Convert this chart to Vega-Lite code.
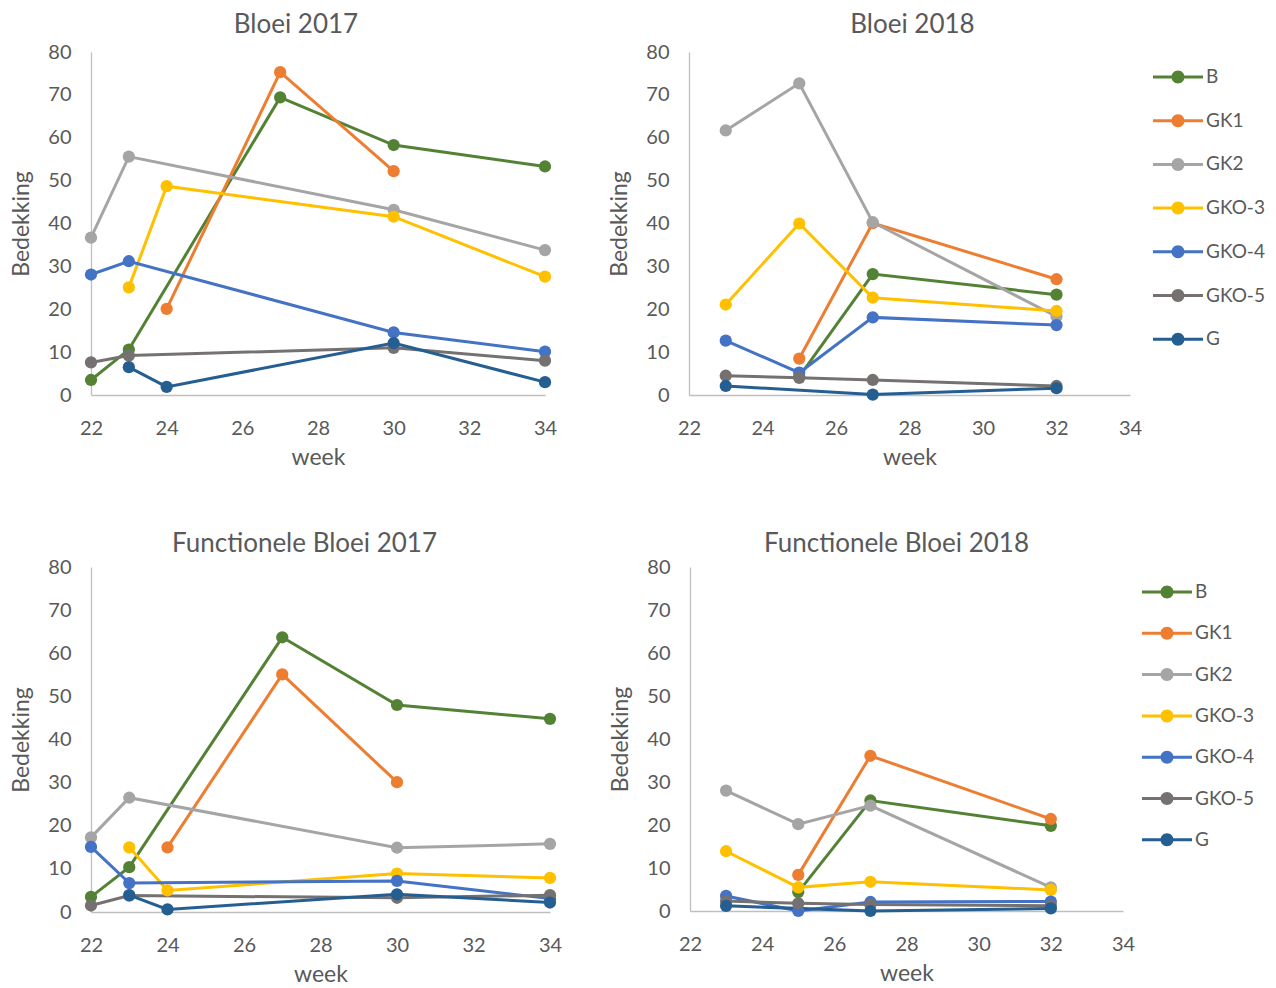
{
  "$schema": "https://vega.github.io/schema/vega-lite/v6.json",
  "padding": {"left": 10, "top": 12, "right": 0, "bottom": 0},
  "background": "white",
  "datasets": {
    "d": [
      {"panel": "Bloei 2017", "serie": "B", "week": 22, "value": 3.5},
      {"panel": "Bloei 2017", "serie": "B", "week": 23, "value": 10.6},
      {"panel": "Bloei 2017", "serie": "B", "week": 27, "value": 69.4},
      {"panel": "Bloei 2017", "serie": "B", "week": 30, "value": 58.3},
      {"panel": "Bloei 2017", "serie": "B", "week": 34, "value": 53.3},
      {"panel": "Bloei 2017", "serie": "GK1", "week": 24, "value": 20.1},
      {"panel": "Bloei 2017", "serie": "GK1", "week": 27, "value": 75.3},
      {"panel": "Bloei 2017", "serie": "GK1", "week": 30, "value": 52.2},
      {"panel": "Bloei 2017", "serie": "GK2", "week": 22, "value": 36.7},
      {"panel": "Bloei 2017", "serie": "GK2", "week": 23, "value": 55.6},
      {"panel": "Bloei 2017", "serie": "GK2", "week": 30, "value": 43.2},
      {"panel": "Bloei 2017", "serie": "GK2", "week": 34, "value": 33.8},
      {"panel": "Bloei 2017", "serie": "GKO-3", "week": 23, "value": 25.1},
      {"panel": "Bloei 2017", "serie": "GKO-3", "week": 24, "value": 48.7},
      {"panel": "Bloei 2017", "serie": "GKO-3", "week": 30, "value": 41.6},
      {"panel": "Bloei 2017", "serie": "GKO-3", "week": 34, "value": 27.6},
      {"panel": "Bloei 2017", "serie": "GKO-4", "week": 22, "value": 28.1},
      {"panel": "Bloei 2017", "serie": "GKO-4", "week": 23, "value": 31.2},
      {"panel": "Bloei 2017", "serie": "GKO-4", "week": 30, "value": 14.6},
      {"panel": "Bloei 2017", "serie": "GKO-4", "week": 34, "value": 10.1},
      {"panel": "Bloei 2017", "serie": "GKO-5", "week": 22, "value": 7.6},
      {"panel": "Bloei 2017", "serie": "GKO-5", "week": 23, "value": 9.2},
      {"panel": "Bloei 2017", "serie": "GKO-5", "week": 30, "value": 11.0},
      {"panel": "Bloei 2017", "serie": "GKO-5", "week": 34, "value": 8.0},
      {"panel": "Bloei 2017", "serie": "G", "week": 23, "value": 6.5},
      {"panel": "Bloei 2017", "serie": "G", "week": 24, "value": 1.9},
      {"panel": "Bloei 2017", "serie": "G", "week": 30, "value": 12.1},
      {"panel": "Bloei 2017", "serie": "G", "week": 34, "value": 3.0},

      {"panel": "Bloei 2018", "serie": "B", "week": 25, "value": 4.3},
      {"panel": "Bloei 2018", "serie": "B", "week": 27, "value": 28.2},
      {"panel": "Bloei 2018", "serie": "B", "week": 32, "value": 23.4},
      {"panel": "Bloei 2018", "serie": "GK1", "week": 25, "value": 8.5},
      {"panel": "Bloei 2018", "serie": "GK1", "week": 27, "value": 40.1},
      {"panel": "Bloei 2018", "serie": "GK1", "week": 32, "value": 27.0},
      {"panel": "Bloei 2018", "serie": "GK2", "week": 23, "value": 61.7},
      {"panel": "Bloei 2018", "serie": "GK2", "week": 25, "value": 72.7},
      {"panel": "Bloei 2018", "serie": "GK2", "week": 27, "value": 40.3},
      {"panel": "Bloei 2018", "serie": "GK2", "week": 32, "value": 18.3},
      {"panel": "Bloei 2018", "serie": "GKO-3", "week": 23, "value": 21.1},
      {"panel": "Bloei 2018", "serie": "GKO-3", "week": 25, "value": 40.0},
      {"panel": "Bloei 2018", "serie": "GKO-3", "week": 27, "value": 22.7},
      {"panel": "Bloei 2018", "serie": "GKO-3", "week": 32, "value": 19.6},
      {"panel": "Bloei 2018", "serie": "GKO-4", "week": 23, "value": 12.7},
      {"panel": "Bloei 2018", "serie": "GKO-4", "week": 25, "value": 5.2},
      {"panel": "Bloei 2018", "serie": "GKO-4", "week": 27, "value": 18.1},
      {"panel": "Bloei 2018", "serie": "GKO-4", "week": 32, "value": 16.3},
      {"panel": "Bloei 2018", "serie": "GKO-5", "week": 23, "value": 4.5},
      {"panel": "Bloei 2018", "serie": "GKO-5", "week": 25, "value": 4.0},
      {"panel": "Bloei 2018", "serie": "GKO-5", "week": 27, "value": 3.5},
      {"panel": "Bloei 2018", "serie": "GKO-5", "week": 32, "value": 2.1},
      {"panel": "Bloei 2018", "serie": "G", "week": 23, "value": 2.1},
      {"panel": "Bloei 2018", "serie": "G", "week": 27, "value": 0.1},
      {"panel": "Bloei 2018", "serie": "G", "week": 32, "value": 1.6},

      {"panel": "Functionele Bloei 2017", "serie": "B", "week": 22, "value": 3.5},
      {"panel": "Functionele Bloei 2017", "serie": "B", "week": 23, "value": 10.4},
      {"panel": "Functionele Bloei 2017", "serie": "B", "week": 27, "value": 63.7},
      {"panel": "Functionele Bloei 2017", "serie": "B", "week": 30, "value": 48.0},
      {"panel": "Functionele Bloei 2017", "serie": "B", "week": 34, "value": 44.8},
      {"panel": "Functionele Bloei 2017", "serie": "GK1", "week": 24, "value": 15.0},
      {"panel": "Functionele Bloei 2017", "serie": "GK1", "week": 27, "value": 55.1},
      {"panel": "Functionele Bloei 2017", "serie": "GK1", "week": 30, "value": 30.1},
      {"panel": "Functionele Bloei 2017", "serie": "GK2", "week": 22, "value": 17.3},
      {"panel": "Functionele Bloei 2017", "serie": "GK2", "week": 23, "value": 26.5},
      {"panel": "Functionele Bloei 2017", "serie": "GK2", "week": 30, "value": 14.9},
      {"panel": "Functionele Bloei 2017", "serie": "GK2", "week": 34, "value": 15.8},
      {"panel": "Functionele Bloei 2017", "serie": "GKO-3", "week": 23, "value": 15.0},
      {"panel": "Functionele Bloei 2017", "serie": "GKO-3", "week": 24, "value": 5.0},
      {"panel": "Functionele Bloei 2017", "serie": "GKO-3", "week": 30, "value": 8.9},
      {"panel": "Functionele Bloei 2017", "serie": "GKO-3", "week": 34, "value": 7.9},
      {"panel": "Functionele Bloei 2017", "serie": "GKO-4", "week": 22, "value": 15.1},
      {"panel": "Functionele Bloei 2017", "serie": "GKO-4", "week": 23, "value": 6.7},
      {"panel": "Functionele Bloei 2017", "serie": "GKO-4", "week": 30, "value": 7.2},
      {"panel": "Functionele Bloei 2017", "serie": "GKO-4", "week": 34, "value": 3.1},
      {"panel": "Functionele Bloei 2017", "serie": "GKO-5", "week": 22, "value": 1.5},
      {"panel": "Functionele Bloei 2017", "serie": "GKO-5", "week": 23, "value": 3.8},
      {"panel": "Functionele Bloei 2017", "serie": "GKO-5", "week": 30, "value": 3.3},
      {"panel": "Functionele Bloei 2017", "serie": "GKO-5", "week": 34, "value": 3.9},
      {"panel": "Functionele Bloei 2017", "serie": "G", "week": 23, "value": 3.9},
      {"panel": "Functionele Bloei 2017", "serie": "G", "week": 24, "value": 0.6},
      {"panel": "Functionele Bloei 2017", "serie": "G", "week": 30, "value": 4.1},
      {"panel": "Functionele Bloei 2017", "serie": "G", "week": 34, "value": 2.2},

      {"panel": "Functionele Bloei 2018", "serie": "B", "week": 25, "value": 4.4},
      {"panel": "Functionele Bloei 2018", "serie": "B", "week": 27, "value": 25.7},
      {"panel": "Functionele Bloei 2018", "serie": "B", "week": 32, "value": 19.8},
      {"panel": "Functionele Bloei 2018", "serie": "GK1", "week": 25, "value": 8.4},
      {"panel": "Functionele Bloei 2018", "serie": "GK1", "week": 27, "value": 36.1},
      {"panel": "Functionele Bloei 2018", "serie": "GK1", "week": 32, "value": 21.4},
      {"panel": "Functionele Bloei 2018", "serie": "GK2", "week": 23, "value": 28.0},
      {"panel": "Functionele Bloei 2018", "serie": "GK2", "week": 25, "value": 20.2},
      {"panel": "Functionele Bloei 2018", "serie": "GK2", "week": 27, "value": 24.5},
      {"panel": "Functionele Bloei 2018", "serie": "GK2", "week": 32, "value": 5.5},
      {"panel": "Functionele Bloei 2018", "serie": "GKO-3", "week": 23, "value": 13.9},
      {"panel": "Functionele Bloei 2018", "serie": "GKO-3", "week": 25, "value": 5.5},
      {"panel": "Functionele Bloei 2018", "serie": "GKO-3", "week": 27, "value": 6.8},
      {"panel": "Functionele Bloei 2018", "serie": "GKO-3", "week": 32, "value": 4.9},
      {"panel": "Functionele Bloei 2018", "serie": "GKO-4", "week": 23, "value": 3.5},
      {"panel": "Functionele Bloei 2018", "serie": "GKO-4", "week": 25, "value": 0.0},
      {"panel": "Functionele Bloei 2018", "serie": "GKO-4", "week": 27, "value": 2.1},
      {"panel": "Functionele Bloei 2018", "serie": "GKO-4", "week": 32, "value": 2.2},
      {"panel": "Functionele Bloei 2018", "serie": "GKO-5", "week": 23, "value": 2.3},
      {"panel": "Functionele Bloei 2018", "serie": "GKO-5", "week": 25, "value": 1.8},
      {"panel": "Functionele Bloei 2018", "serie": "GKO-5", "week": 27, "value": 1.5},
      {"panel": "Functionele Bloei 2018", "serie": "GKO-5", "week": 32, "value": 1.2},
      {"panel": "Functionele Bloei 2018", "serie": "G", "week": 23, "value": 1.2},
      {"panel": "Functionele Bloei 2018", "serie": "G", "week": 27, "value": 0.0},
      {"panel": "Functionele Bloei 2018", "serie": "G", "week": 32, "value": 0.6}
    ]
  },
  "config": {
    "font": "Lato",
    "view": {"stroke": null},
    "axis": {
      "grid": false,
      "ticks": false,
      "labelFlush": false,
      "domainColor": "#BFBFBF",
      "domainWidth": 1.3,
      "labelFont": "Lato",
      "labelFontSize": 20,
      "labelColor": "#595959",
      "titleFont": "Lato",
      "titleFontSize": 23,
      "titleColor": "#595959",
      "titleFontWeight": "normal"
    },
    "title": {"font": "Lato", "fontSize": 26, "fontWeight": "normal", "color": "#595959", "anchor": "middle", "frame": "group"},
    "legend": {
      "labelFont": "Lato",
      "labelFontSize": 19,
      "labelColor": "#595959"
    }
  },
  "resolve": {"scale": {"color": "independent"}, "legend": {"color": "independent"}},
  "spacing": 62,
  "vconcat": [
    {
      "spacing": 51,
      "resolve": {"scale": {"color": "independent"}, "legend": {"color": "independent"}},
      "hconcat": [
        {
          "title": {"text": "Bloei 2017", "dx": -22, "offset": 4},
          "width": 454, "height": 343,
          "data": {"name": "d"},
          "transform": [{"filter": "datum.panel === 'Bloei 2017'"}],
          "encoding": {
            "x": {"field": "week", "type": "quantitative", "scale": {"domain": [22, 34], "nice": false, "zero": false}, "axis": {"values": [22, 24, 26, 28, 30, 32, 34], "labelPadding": 23, "title": "week", "titlePadding": 8}},
            "y": {"field": "value", "type": "quantitative", "scale": {"domain": [0, 80], "nice": false}, "axis": {"values": [0, 10, 20, 30, 40, 50, 60, 70, 80], "labelPadding": 20, "title": "Bedekking", "titlePadding": 14}},
            "color": {"field": "serie", "type": "nominal", "scale": {"domain": ["B", "GK1", "GK2", "GKO-3", "GKO-4", "GKO-5", "G"], "range": ["#548235", "#ED7D31", "#A5A5A5", "#FFC000", "#4472C4", "#767171", "#255E91"]}, "legend": null}
          },
          "layer": [
            {"mark": {"type": "line", "strokeWidth": 3}},
            {"mark": {"type": "point", "filled": true, "opacity": 1, "size": 150}}
          ]
        },
        {
          "title": {"text": "Bloei 2018", "dx": 3, "offset": 4},
          "width": 441, "height": 343,
          "data": {"name": "d"},
          "transform": [{"filter": "datum.panel === 'Bloei 2018'"}],
          "encoding": {
            "x": {"field": "week", "type": "quantitative", "scale": {"domain": [22, 34], "nice": false, "zero": false}, "axis": {"values": [22, 24, 26, 28, 30, 32, 34], "labelPadding": 23, "title": "week", "titlePadding": 8}},
            "y": {"field": "value", "type": "quantitative", "scale": {"domain": [0, 80], "nice": false}, "axis": {"values": [0, 10, 20, 30, 40, 50, 60, 70, 80], "labelPadding": 20, "title": "Bedekking", "titlePadding": 14}},
            "color": {"field": "serie", "type": "nominal", "scale": {"domain": ["B", "GK1", "GK2", "GKO-3", "GKO-4", "GKO-5", "G"], "range": ["#548235", "#ED7D31", "#A5A5A5", "#FFC000", "#4472C4", "#767171", "#255E91"]},
              "legend": {"title": null, "orient": "right", "offset": 23, "padding": 0, "rowPadding": 8.7, "labelOffset": 3, "symbolType": "M-1,-0.06L1,-0.06L1,0.06L-1,0.06Z M-0.26,0A0.26,0.26,0,1,1,0.26,0A0.26,0.26,0,1,1,-0.26,0Z", "symbolSize": 2500, "symbolStrokeWidth": 0}}
          },
          "layer": [
            {"mark": {"type": "line", "strokeWidth": 3}},
            {"mark": {"type": "point", "filled": true, "opacity": 1, "size": 150}}
          ]
        }
      ]
    },
    {
      "spacing": 47,
      "resolve": {"scale": {"color": "independent"}, "legend": {"color": "independent"}},
      "hconcat": [
        {
          "title": {"text": "Functionele Bloei 2017", "dx": -16, "offset": 0},
          "width": 459, "height": 345,
          "data": {"name": "d"},
          "transform": [{"filter": "datum.panel === 'Functionele Bloei 2017'"}],
          "encoding": {
            "x": {"field": "week", "type": "quantitative", "scale": {"domain": [22, 34], "nice": false, "zero": false}, "axis": {"values": [22, 24, 26, 28, 30, 32, 34], "labelPadding": 23, "title": "week", "titlePadding": 8}},
            "y": {"field": "value", "type": "quantitative", "scale": {"domain": [0, 80], "nice": false}, "axis": {"values": [0, 10, 20, 30, 40, 50, 60, 70, 80], "labelPadding": 20, "title": "Bedekking", "titlePadding": 14}},
            "color": {"field": "serie", "type": "nominal", "scale": {"domain": ["B", "GK1", "GK2", "GKO-3", "GKO-4", "GKO-5", "G"], "range": ["#548235", "#ED7D31", "#A5A5A5", "#FFC000", "#4472C4", "#767171", "#255E91"]}, "legend": null}
          },
          "layer": [
            {"mark": {"type": "line", "strokeWidth": 3}},
            {"mark": {"type": "point", "filled": true, "opacity": 1, "size": 150}}
          ]
        },
        {
          "title": {"text": "Functionele Bloei 2018", "dx": -10, "offset": 0},
          "width": 433, "height": 344,
          "data": {"name": "d"},
          "transform": [{"filter": "datum.panel === 'Functionele Bloei 2018'"}],
          "encoding": {
            "x": {"field": "week", "type": "quantitative", "scale": {"domain": [22, 34], "nice": false, "zero": false}, "axis": {"values": [22, 24, 26, 28, 30, 32, 34], "labelPadding": 23, "title": "week", "titlePadding": 8}},
            "y": {"field": "value", "type": "quantitative", "scale": {"domain": [0, 80], "nice": false}, "axis": {"values": [0, 10, 20, 30, 40, 50, 60, 70, 80], "labelPadding": 20, "title": "Bedekking", "titlePadding": 14}},
            "color": {"field": "serie", "type": "nominal", "scale": {"domain": ["B", "GK1", "GK2", "GKO-3", "GKO-4", "GKO-5", "G"], "range": ["#548235", "#ED7D31", "#A5A5A5", "#FFC000", "#4472C4", "#767171", "#255E91"]},
              "legend": {"title": null, "orient": "right", "offset": 19, "padding": 0, "rowPadding": 6.3, "labelOffset": 3, "symbolType": "M-1,-0.06L1,-0.06L1,0.06L-1,0.06Z M-0.26,0A0.26,0.26,0,1,1,0.26,0A0.26,0.26,0,1,1,-0.26,0Z", "symbolSize": 2500, "symbolStrokeWidth": 0}}
          },
          "layer": [
            {"mark": {"type": "line", "strokeWidth": 3}},
            {"mark": {"type": "point", "filled": true, "opacity": 1, "size": 150}}
          ]
        }
      ]
    }
  ]
}
